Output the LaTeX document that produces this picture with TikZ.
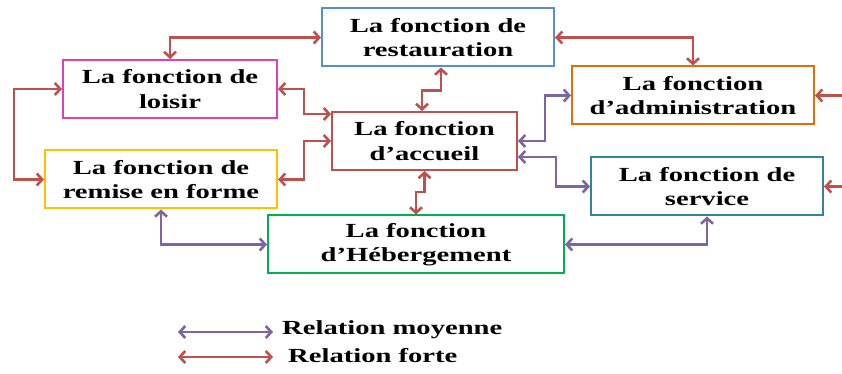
\documentclass[tikz,border=0pt]{standalone}
\usepackage{fontspec}
\setmainfont{Liberation Serif}[FakeStretch=1.43]
\usetikzlibrary{arrows.meta}
\definecolor{strong}{HTML}{C0504D}
\definecolor{medium}{HTML}{8064A2}
\definecolor{cRest}{HTML}{558ED5}
\definecolor{cLoisir}{HTML}{DD3FBE}
\definecolor{cAccueil}{HTML}{C0504D}
\definecolor{cAdmin}{HTML}{E46C0A}
\definecolor{cForme}{HTML}{FFC000}
\definecolor{cService}{HTML}{31849B}
\definecolor{cHeberg}{HTML}{00B050}
\tikzset{
  >={Straight Barb[length=5.5pt,width=12pt]},
  fnbox/.style={draw,line width=2pt,fill=white,align=center,inner sep=2pt,
    minimum height=58pt,font=\fontsize{20}{24.3}\selectfont\bfseries},
  rel/.style={<->,line width=2.6pt},
  forte/.style={rel,draw=strong},
  moyenne/.style={rel,draw=medium},
  keytext/.style={font=\fontsize{20}{24}\selectfont\bfseries,inner sep=0pt,anchor=base west},
}

\begin{document}
\begin{tikzpicture}[x=1pt,y=1pt]
  \path[use as bounding box,fill=white] (0,0) rectangle (842,374);
  \node[fnbox,draw=cRest,minimum width=232pt] (rest) at (438,336.5) {La fonction de\\restauration};
  \node[fnbox,draw=cLoisir,minimum width=214pt] (loisir) at (170,285) {La fonction de\\loisir};
  \node[fnbox,draw=cAccueil,minimum width=185pt] (accueil) at (424.5,233) {La fonction\\d’accueil};
  \node[fnbox,draw=cAdmin,minimum width=242pt] (admin) at (693,278.5) {La fonction\\d’administration};
  \node[fnbox,draw=cForme,minimum width=232pt] (forme) at (161,194.5) {La fonction de\\remise en forme};
  \node[fnbox,draw=cService,minimum width=232pt] (service) at (707,187.5) {La fonction de\\service};
  \node[fnbox,draw=cHeberg,minimum width=296pt] (heberg) at (416,129.5) {La fonction\\d’Hébergement};
  % relations fortes
  \draw[forte] (rest.west) -| (loisir.north);
  \draw[forte] (rest.east) -| (admin.north);
  \draw[forte] ([xshift=3pt]rest.south) -- ++(0,-23) -| ([xshift=-2.5pt]accueil.north);
  \draw[forte] (loisir.east) -- ++(26,0) |- ([yshift=-3pt]accueil.north west);
  \draw[forte] (forme.east) -- ++(26,0) |- (accueil.west);
  \draw[forte] (accueil.south) -- ++(0,-21) -| (heberg.north);
  \draw[forte] (loisir.west) -- ++(-48,0) |- (forme.west);
  \coordinate (adminR) at (842,278.5);
  \coordinate (serviceR) at (842,187.5);
  \draw[forte,->] (adminR) -- (admin.east);
  \draw[forte,->] (serviceR) -- (service.east);
  % relations moyennes
  \draw[moyenne] (accueil.east) -- ++(27,0) |- (admin.west);
  \draw[moyenne] ([yshift=-16pt]accueil.east) -- ++(38,0) |- (service.west);
  \draw[moyenne] (forme.south) |- (heberg.west);
  \draw[moyenne] (heberg.east) -| (service.south);
  % legende
  \node[keytext] (lgMoy) at (282,39) {Relation moyenne};
  \node[keytext] (lgForte) at (288,11) {Relation forte};
  \coordinate (lgMoyA) at (178,42);
  \coordinate (lgMoyB) at (273,42);
  \coordinate (lgForteA) at (178,17);
  \coordinate (lgForteB) at (273,17);
  \draw[moyenne] (lgMoyA) -- (lgMoyB);
  \draw[forte] (lgForteA) -- (lgForteB);
\end{tikzpicture}
\end{document}
